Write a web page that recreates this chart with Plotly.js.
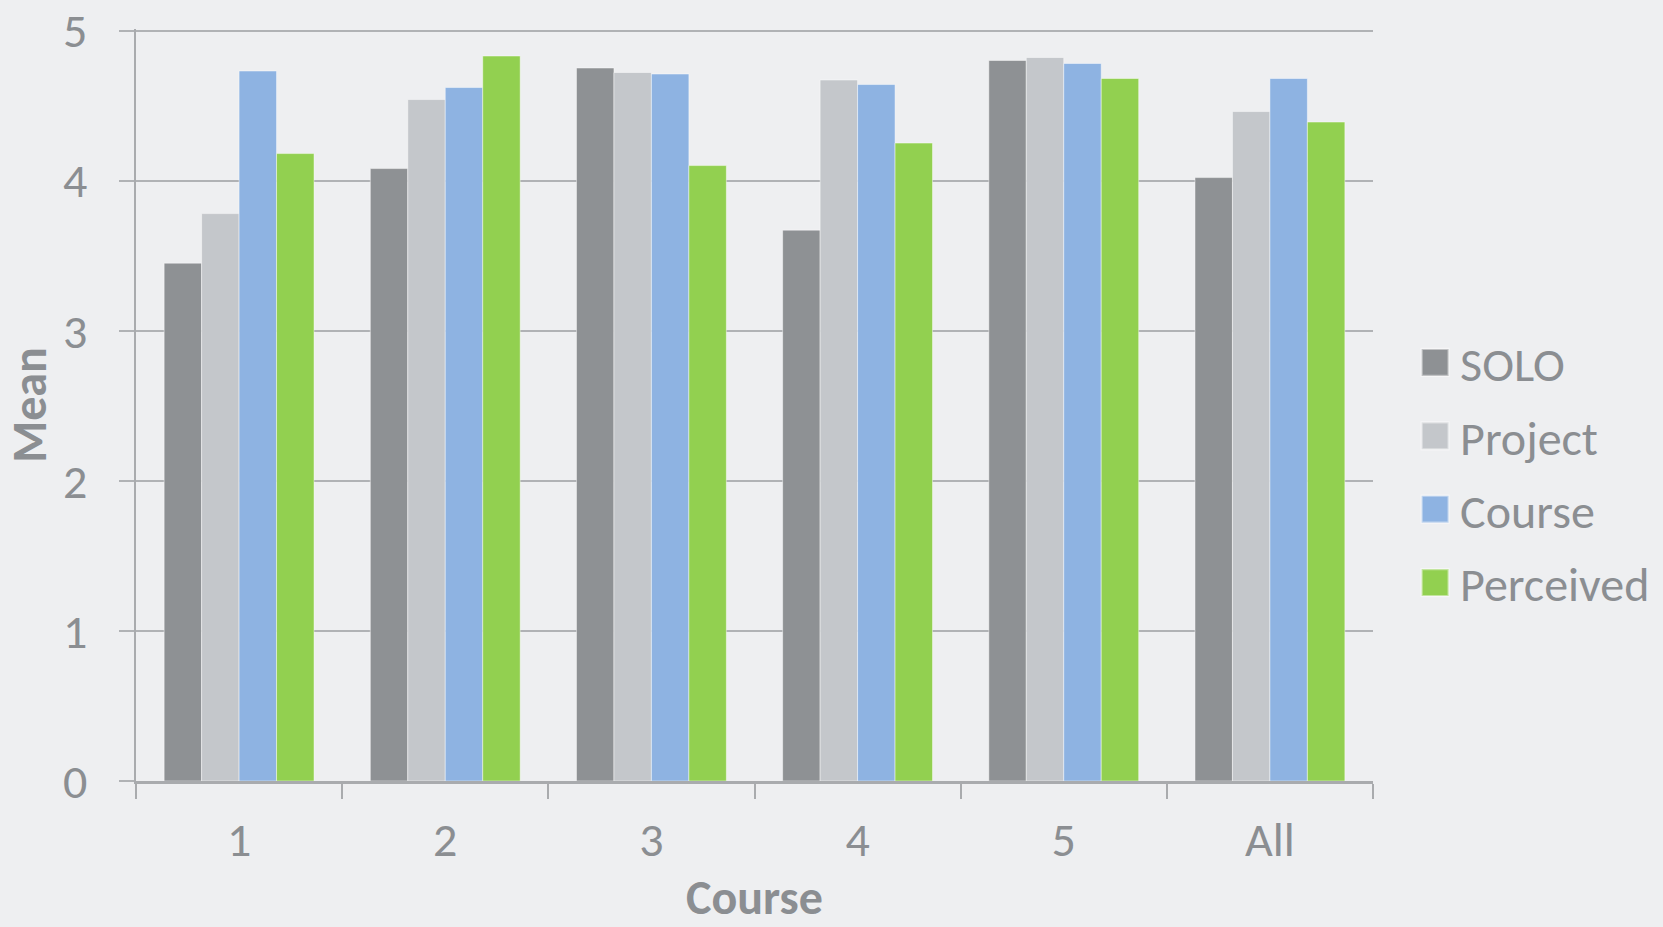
<!DOCTYPE html>
<html>
<head>
<meta charset="utf-8">
<script src="https://cdn.plot.ly/plotly-3.0.1.min.js"></script>
<style>html,body{margin:0;padding:0;background:#eeeff1;}#chart{width:1663px;height:927px;}</style>
</head>
<body>
<div id="chart"></div>
<script>
const categories = ["1", "2", "3", "4", "5", "All"];
const seriesNames = ["SOLO", "Project", "Course", "Perceived"];
const solo      = [3.45, 4.08, 4.75, 3.67, 4.80, 4.02];
const project   = [3.78, 4.54, 4.72, 4.67, 4.82, 4.46];
const course    = [4.73, 4.62, 4.71, 4.64, 4.78, 4.68];
const perceived = [4.18, 4.83, 4.10, 4.25, 4.68, 4.39];
const yTicks = [0, 1, 2, 3, 4, 5];

const colors = ["#8e9194", "#c4c7cb", "#8eb3e2", "#92d050"];
const values = [solo, project, course, perceived];
const textColor = "#8b8e92";
const fontFam = "Carlito, 'Open Sans', sans-serif";
const fs = 48;

const traces = seriesNames.map((name, i) => ({
  type: "bar",
  name: name,
  x: categories,
  y: values[i],
  legendgroup: name,
  marker: { color: colors[i], line: { color: "rgba(255,255,255,0.45)", width: 1 } },
  hoverinfo: "x+y+name"
}));

const layout = {
  width: 1663,
  height: 927,
  paper_bgcolor: "#eeeff1",
  plot_bgcolor: "#eeeff1",
  margin: { l: 136, r: 290, t: 29, b: 146, autoexpand: false },
  barmode: "group",
  bargap: 0.273,
  bargroupgap: 0,
  font: { family: fontFam, color: textColor, size: fs },
  xaxis: {
    type: "category",
    tickson: "boundaries",
    ticks: "outside",
    ticklen: 15,
    tickwidth: 2,
    tickcolor: "#a9abae",
    showline: true,
    linecolor: "#a9abae",
    linewidth: 3,
    showgrid: false,
    tickfont: { size: fs, color: textColor, family: fontFam },
    ticklabelstandoff: 14,
    title: { text: "Course", font: { size: fs, color: textColor, family: fontFam, weight: "bold" }, standoff: 28 }
  },
  yaxis: {
    range: [0, 5.01],
    tickvals: yTicks,
    ticktext: yTicks.map(String),
    ticks: "outside",
    ticklen: 15,
    tickwidth: 2,
    tickcolor: "#b0b2b5",
    showline: true,
    linecolor: "#a9abae",
    linewidth: 2,
    showgrid: true,
    gridcolor: "#b0b2b5",
    gridwidth: 2,
    zeroline: false,
    ticklabeloverflow: "allow",
    tickfont: { size: fs, color: textColor, family: fontFam },
    ticklabelstandoff: 22,
    title: { text: "Mean", font: { size: fs, color: textColor, family: fontFam, weight: "bold" }, standoff: 20 }
  },
  legend: {
    x: 1.03,
    xanchor: "left",
    y: 0.41,
    yanchor: "middle",
    traceorder: "grouped",
    tracegroupgap: 8,
    bgcolor: "rgba(0,0,0,0)",
    font: { size: fs, color: textColor, family: fontFam },
    itemwidth: 40
  },
  showlegend: true
};

Plotly.newPlot("chart", traces, layout, { displayModeBar: false, staticPlot: true }).then(() => {
  document.querySelectorAll(".legend .legendpoints path").forEach(p => {
    const t = p.getAttribute("transform") || "";
    p.setAttribute("transform", t + " scale(2.25)");
  });
});
</script>
</body>
</html>
